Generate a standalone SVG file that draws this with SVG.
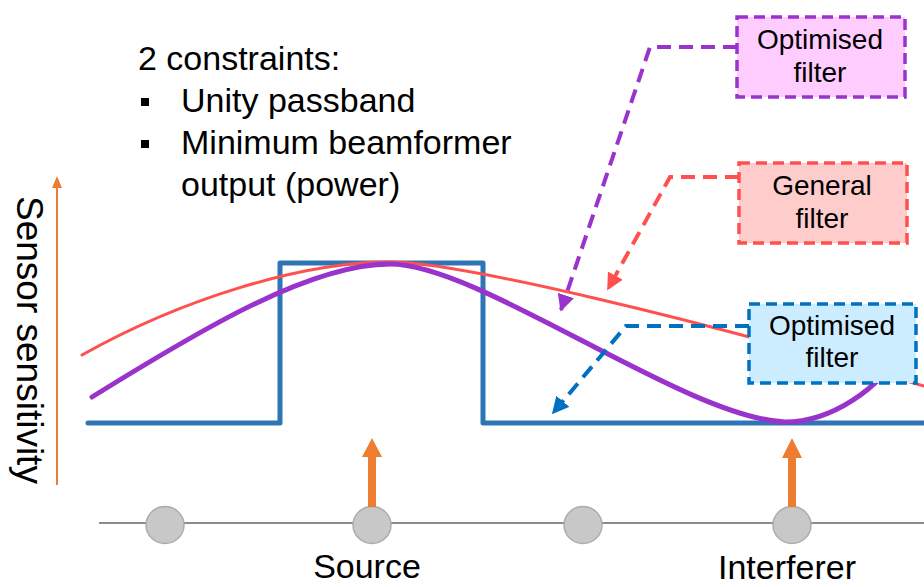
<svg xmlns="http://www.w3.org/2000/svg" width="924" height="587" viewBox="0 0 924 587">
  <style>
    text { font-family: "Liberation Sans", Arial, sans-serif; fill: #000; }
    .big { font-size: 34px; }
    .lbl { font-size: 28px; text-anchor: middle; }
    .curve { fill: none; stroke-linecap: round; stroke-linejoin: round; }
    .box { stroke-width: 3.5; stroke-dasharray: 11 6; }
    .lead { fill: none; stroke-width: 4; stroke-dasharray: 14 8; }
    .sensor { fill: #C8C8C8; stroke: #ADADAD; stroke-width: 1.5; }
    .doa { fill: #ED7D31; }
  </style>
  <defs>
    <marker id="headPurple" markerUnits="userSpaceOnUse" markerWidth="17" markerHeight="17" viewBox="0 0 10 10" refX="9" refY="5" orient="auto">
      <path d="M0,0 L10,5 L0,10 z" fill="#9933CC"/>
    </marker>
    <marker id="headRed" markerUnits="userSpaceOnUse" markerWidth="17" markerHeight="17" viewBox="0 0 10 10" refX="9" refY="5" orient="auto">
      <path d="M0,0 L10,5 L0,10 z" fill="#FF5050"/>
    </marker>
    <marker id="headBlue" markerUnits="userSpaceOnUse" markerWidth="17" markerHeight="17" viewBox="0 0 10 10" refX="9" refY="5" orient="auto">
      <path d="M0,0 L10,5 L0,10 z" fill="#0070C0"/>
    </marker>
  </defs>

  <!-- constraints text -->
  <g id="constraints">
    <text class="big" x="138" y="70">2 constraints:</text>
    <rect x="141" y="98" width="8" height="8" fill="#000"/>
    <text class="big" x="181" y="112">Unity passband</text>
    <rect x="141" y="140" width="8" height="8" fill="#000"/>
    <text class="big" x="181" y="154">Minimum beamformer</text>
    <text class="big" x="181" y="196">output (power)</text>
  </g>

  <!-- vertical axis -->
  <g id="axis">
    <line x1="57" y1="485" x2="57" y2="186" stroke="#ED7D31" stroke-width="2"/>
    <path d="M52,188 L57,176 L62,188 z" fill="#ED7D31"/>
    <text transform="translate(17,196) rotate(90)" style="font-size:37px">Sensor sensitivity</text>
  </g>

  <!-- response curves -->
  <g id="curves">
    <path class="curve" d="M88,423 H280 V263 H483 V423 H924" stroke="#2E75B6" stroke-width="5" stroke-linecap="butt"/>
    <path class="curve" d="M82,355 C180,300 300,262 390,262 C460,262 700,320 924,386" stroke="#FF5050" stroke-width="3"/>
    <path class="curve" d="M92,397 C200,330 310,264 390,264 C480,264 685,418 785,422 C830,422 880,390 905,345" stroke="#9933CC" stroke-width="5"/>
  </g>

  <!-- sensor array -->
  <g id="array">
    <line x1="99" y1="523" x2="924" y2="523" stroke="#8C8C8C" stroke-width="2"/>
    <g id="sensor1"><ellipse class="sensor" cx="165" cy="525" rx="19" ry="18.5"/></g>
    <g id="sensor2"><ellipse class="sensor" cx="372" cy="525" rx="19" ry="18.5"/></g>
    <g id="sensor3"><ellipse class="sensor" cx="583" cy="525" rx="19" ry="18.5"/></g>
    <g id="sensor4"><ellipse class="sensor" cx="792" cy="525" rx="19" ry="18.5"/></g>
  </g>

  <!-- source and interferer directions -->
  <g id="source">
    <rect class="doa" x="368" y="455" width="8" height="52"/>
    <path class="doa" d="M362,457 L372,438 L382,457 z"/>
    <text class="big" x="367" y="578" text-anchor="middle">Source</text>
  </g>
  <g id="interferer">
    <rect class="doa" x="788" y="456" width="8" height="51"/>
    <path class="doa" d="M782,458 L792,438 L802,458 z"/>
    <text class="big" x="787" y="579" text-anchor="middle">Interferer</text>
  </g>

  <!-- callout leaders -->
  <g id="connectors">
    <path class="lead" d="M737,47 H650 L561,310" stroke="#9933CC" marker-end="url(#headPurple)"/>
    <path class="lead" d="M739,177 H670 L608,289" stroke="#FF5050" marker-end="url(#headRed)"/>
    <path class="lead" d="M749,326 H626 L553,413" stroke="#0070C0" marker-end="url(#headBlue)"/>
  </g>

  <!-- callout boxes -->
  <g id="optimised-filter-purple">
    <rect class="box" x="737" y="17" width="168" height="80" fill="#FFCCFF" stroke="#9933CC"/>
    <text class="lbl" x="820" y="49">Optimised</text>
    <text class="lbl" x="820" y="82">filter</text>
  </g>
  <g id="general-filter">
    <rect class="box" x="739" y="163" width="168" height="80" fill="#FFCCCC" stroke="#FF5050"/>
    <text class="lbl" x="822" y="195">General</text>
    <text class="lbl" x="822" y="228">filter</text>
  </g>
  <g id="optimised-filter-blue">
    <rect class="box" x="749" y="304" width="167" height="79" fill="#CCECFF" stroke="#0070C0"/>
    <text class="lbl" x="832" y="335">Optimised</text>
    <text class="lbl" x="832" y="367">filter</text>
  </g>
</svg>
